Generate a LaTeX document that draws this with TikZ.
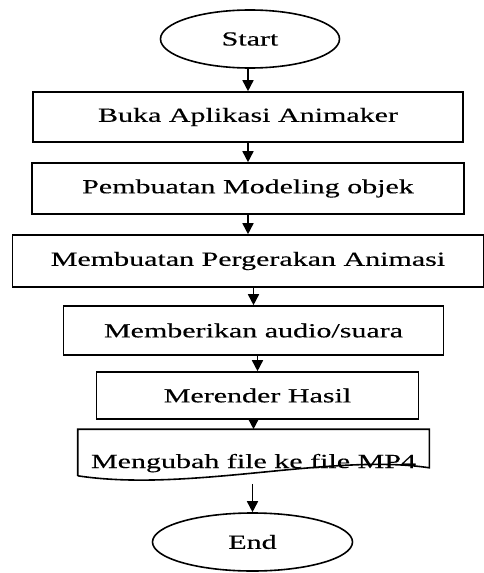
\documentclass[tikz,border=0pt]{standalone}
\usepackage{fontspec}
\setmainfont{Liberation Serif}[FakeStretch=1.5,FakeBold=0.3]
\usetikzlibrary{positioning,shapes.geometric,arrows.meta}

\begin{document}
\begin{tikzpicture}[x=1pt,y=-1pt,on grid,line width=1.6pt,
        font=\fontsize{20}{24}\selectfont,
        terminal/.style={ellipse,draw,minimum width=179pt,minimum height=58pt,inner sep=0pt},
        process/.style={rectangle,draw,minimum height=50pt,inner sep=0pt},
        flow/.style={-{Triangle[length=11pt,width=11pt]}}]
    \useasboundingbox (0,0) rectangle (484,573);
    \node[terminal] (start) at (250,39) {Start};
    \node[process,minimum width=430pt] (buka) [below=78pt of start,xshift=-2pt] {Buka Aplikasi Animaker};
    \node[process,minimum width=432pt,minimum height=51pt] (model) [below=71.5pt of buka] {Pembuatan Modeling objek};
    \node[process,minimum width=471pt,minimum height=52pt] (gerak) [below=72.5pt of model] {Membuatan Pergerakan Animasi};
    \node[process,minimum width=380pt,minimum height=49pt] (audio) [below=69.5pt of gerak,xshift=5.5pt] {Memberikan audio/suara};
    \node[process,minimum width=322pt,minimum height=47pt] (render) [below=65pt of audio,xshift=4pt] {Merender Hasil};
    \node[inner sep=0pt,minimum width=350pt,text height=38pt,text depth=7pt] (mp4) [below=57pt of render,xshift=-4pt] {Mengubah file ke file MP4};
    \node[terminal,minimum width=200pt] (end) [below=89.5pt of mp4,xshift=-1pt] {End};
    % document shape with wavy bottom
    \draw (mp4.south west) -- (mp4.north west) -- (mp4.north east) -- ([yshift=8pt]mp4.south east)
        .. controls +(-98,-15) and +(112,17) .. (mp4.south west);
    \path[flow]
        (start.south -| buka.north) edge (buka.north)
        (buka.south -| model.north) edge (model.north)
        (model.south -| gerak.north) edge (gerak.north)
        (gerak.south -| audio.north) edge (audio.north)
        (audio.south -| render.north) edge (render.north)
        (render.south -| mp4.north) edge (mp4.north)
        (mp4.south -| end.north) edge [shorten <=8pt] (end.north);
\end{tikzpicture}
\end{document}
